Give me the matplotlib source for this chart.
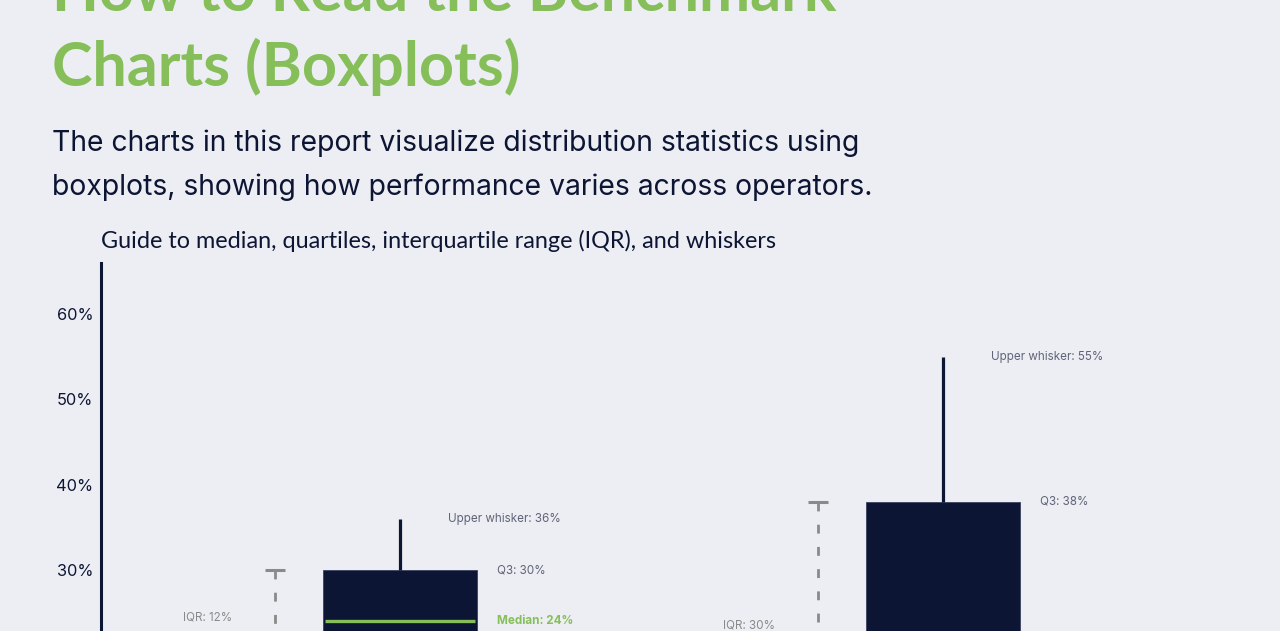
import matplotlib
matplotlib.use("Agg")
import matplotlib.pyplot as plt

# ---- data ----
boxes = ["Example A", "Example B"]
q1 = [18, 8]
median = [24, 16]
q3 = [30, 38]
upper_whisker = [36, 55]
lower_whisker = [12, 2]
yticks = [30, 40, 50, 60]
ytick_labels = ["30%", "40%", "50%", "60%"]

title_lines = ["How to Read the Benchmark", "Charts (Boxplots)"]
subtitle_lines = ["The charts in this report visualize distribution statistics using",
                  "boxplots, showing how performance varies across operators."]
chart_title = "Guide to median, quartiles, interquartile range (IQR), and whiskers"

# ---- style ----
BG = "#edeef3"
NAVY = "#0c1533"
GREEN = "#86bf5a"
GREY_TXT = "#5f6478"
GREY_IQR = "#8a8a8a"

W, H = 1280, 631
fig = plt.figure(figsize=(W / 100, H / 100), dpi=100, facecolor=BG)

def fy(px):  # pixel from top -> figure fraction
    return 1 - px / H

def fx(px):
    return px / W

fig.text(fx(52), fy(11), title_lines[0], fontsize=44, fontweight="bold", color=GREEN,
         family="Lato", va="baseline", ha="left")
fig.text(fx(52), fy(86), title_lines[1], fontsize=44, fontweight="bold", color=GREEN,
         family="Lato", va="baseline", ha="left")
fig.text(fx(52), fy(151), subtitle_lines[0], fontsize=20.4, color=NAVY,
         family="Inter", va="baseline", ha="left")
fig.text(fx(52), fy(195), subtitle_lines[1], fontsize=20.4, color=NAVY,
         family="Inter", va="baseline", ha="left")
fig.text(fx(101), fy(248), chart_title, fontsize=16.85, color=NAVY,
         family="Lato", va="baseline", ha="left")

# axes: y 0..66 maps to px 826..263 ; x centers at px 400 and 943
y0_px, ytop_px = 826, 263
ax_left_px, ax_right_px = 101, 1242
ax = fig.add_axes([fx(ax_left_px), fy(y0_px), (ax_right_px - ax_left_px) / W,
                   (y0_px - ytop_px) / H])
ax.set_facecolor("none")
unit = 943 - 400
ax.set_xlim(-(400 - ax_left_px) / unit, 1 + (ax_right_px - 943) / unit)
ax.set_ylim(0, 66)
for s in ["top", "right", "bottom"]:
    ax.spines[s].set_visible(False)
ax.spines["left"].set_color(NAVY)
ax.spines["left"].set_linewidth(2.2)
ax.set_xticks([])
ax.set_yticks(yticks)
ax.set_yticklabels(ytick_labels, fontsize=11.8, color=NAVY, family="Inter")
ax.tick_params(axis="y", length=0, pad=5.5)

box_w = 154 / unit
pos = list(range(len(boxes)))
LBL = 8.4

for i in pos:
    # box
    ax.bar(i, q3[i] - q1[i], bottom=q1[i], width=box_w, color=NAVY,
           edgecolor="#3a4260", linewidth=0.6, zorder=2)
    # median
    ax.plot([i - box_w / 2 + 0.004, i + box_w / 2 - 0.004], [median[i], median[i]],
            color=GREEN, lw=2.4, zorder=3, solid_capstyle="butt")
    # whiskers
    ax.plot([i, i], [q3[i], upper_whisker[i]], color=NAVY, lw=2.3, zorder=2,
            solid_capstyle="butt")
    ax.plot([i, i], [lower_whisker[i], q1[i]], color=NAVY, lw=2.3, zorder=2,
            solid_capstyle="butt")
    # IQR indicator
    xi = i - box_w / 2 - 48 / unit
    ax.plot([xi, xi], [q3[i], q1[i]], color=GREY_IQR, lw=2, ls=(0, (3.2, 4.8)),
            zorder=1, solid_capstyle="butt", dash_capstyle="butt")
    ax.plot([xi - 10 / unit, xi + 10 / unit], [q3[i], q3[i]], color=GREY_IQR, lw=2.2,
            zorder=1, solid_capstyle="butt")
    ax.annotate(f"IQR: {q3[i] - q1[i]}%", xy=(xi, (q1[i] + q3[i]) / 2),
                xytext=(-43, 4), textcoords="offset pixels", ha="right", va="center",
                fontsize=LBL, color=GREY_IQR, family="Inter")
    # labels
    ax.annotate(f"Upper whisker: {upper_whisker[i]}%", xy=(i, upper_whisker[i]),
                xytext=(48, 0), textcoords="offset pixels", ha="left", va="center",
                fontsize=LBL, color=GREY_TXT, family="Inter")
    ax.annotate(f"Q3: {q3[i]}%", xy=(i + box_w / 2, q3[i]),
                xytext=(20, 0), textcoords="offset pixels", ha="left", va="center",
                fontsize=LBL, color=GREY_TXT, family="Inter")
    ax.annotate(f"Median: {median[i]}%", xy=(i + box_w / 2, median[i]),
                xytext=(20, 0), textcoords="offset pixels", ha="left", va="center",
                fontsize=LBL, color=GREEN, fontweight="bold", family="Inter")

fig.savefig("out.png", dpi=100, facecolor=BG)
